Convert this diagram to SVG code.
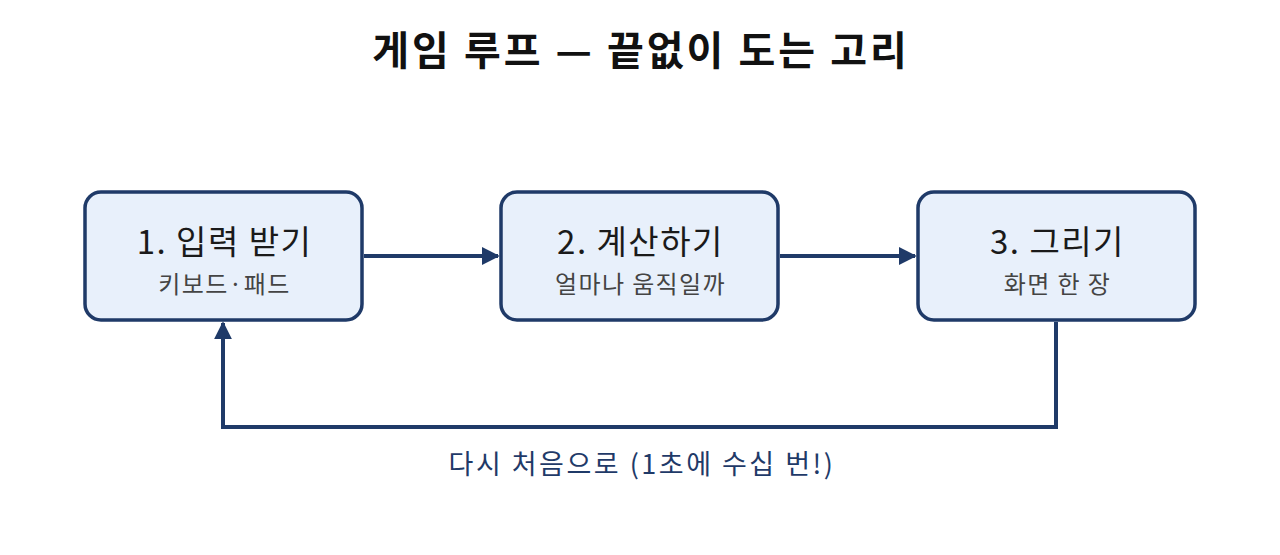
<svg xmlns="http://www.w3.org/2000/svg" width="1280" height="555" viewBox="0 0 1280 555">
<style>
.box{fill:#e8f0fb;stroke:#1f3a68;stroke-width:3.5}
.t{font-family:"Noto Sans CJK KR","Noto Sans",sans-serif;text-anchor:middle}
.main{font-size:33px;fill:#1a1a1a;letter-spacing:1.5px}
.sub{font-size:24px;fill:#444;letter-spacing:1.4px}
.edge{fill:none;stroke:#1f3a68;stroke-width:4}
</style>
<defs>
<marker id="ah" viewBox="0 0 10 10" refX="9" refY="5" markerWidth="4.5" markerHeight="4.5" markerUnits="strokeWidth" orient="auto">
<path d="M0,0 L10,5 L0,10 z" fill="#1f3a68"/>
</marker>
</defs>
<rect width="1280" height="555" fill="#ffffff"/>
<text class="t" x="641" y="65" font-size="40" font-weight="bold" fill="#111" letter-spacing="3">게임 루프 — 끝없이 도는 고리</text>
<g id="connectors">
<line class="edge" x1="364" y1="256" x2="498" y2="256" marker-end="url(#ah)"/>
<line class="edge" x1="780" y1="256" x2="915" y2="256" marker-end="url(#ah)"/>
<polyline class="edge" points="1056,322 1056,427 223,427 223,323" marker-end="url(#ah)"/>
<text class="t" x="642" y="474" font-size="27" fill="#1f3a68" letter-spacing="2.5">다시 처음으로 (1초에 수십 번!)</text>
</g>
<g id="node1">
<rect class="box" x="85" y="192" width="277" height="128" rx="16"/>
<text class="t main" x="224.5" y="254">1. 입력 받기</text>
<text class="t sub" x="224.5" y="293">키보드·패드</text>
</g>
<g id="node2">
<rect class="box" x="501" y="192" width="277" height="128" rx="16"/>
<text class="t main" x="640.5" y="254">2. 계산하기</text>
<text class="t sub" x="640.5" y="293">얼마나 움직일까</text>
</g>
<g id="node3">
<rect class="box" x="918" y="192" width="277" height="128" rx="16"/>
<text class="t main" x="1057.5" y="254">3. 그리기</text>
<text class="t sub" x="1057.5" y="293">화면 한 장</text>
</g>
</svg>
